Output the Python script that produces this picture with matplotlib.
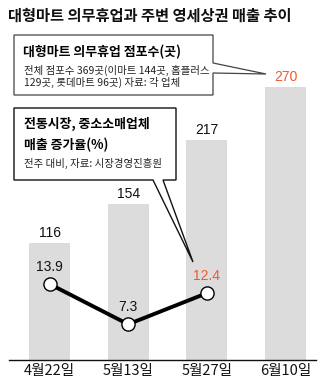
import matplotlib
matplotlib.use('Agg')
import matplotlib.pyplot as plt
from matplotlib.patches import Polygon

plt.rcParams['font.family'] = ['Noto Sans CJK KR', 'DejaVu Sans']

# 데이터
dates = ['4월22일', '5월13일', '5월27일', '6월10일']
stores = [116, 154, 217, 270]          # 의무휴업 점포수(곳)
growth = [13.9, 7.3, 12.4]             # 전주 대비 매출 증가율(%)

W, H = 334, 384
ORANGE = '#f05a28'
BAR = '#dcdcdc'
NUM = ['Liberation Sans', 'DejaVu Sans']


def fx(x):
    return x / W


def fy(y):
    return 1 - y / H


fig = plt.figure(figsize=(W / 100, H / 100), dpi=100)
fig.patch.set_facecolor('white')

# 막대 축 (바닥선 y=360px, 상단 y=60px)
ax = fig.add_axes([fx(9), fy(360), (316 - 9) / W, 300 / H])
xs = list(range(len(dates)))
ax.bar(xs, stores, width=0.52, color=BAR, zorder=1)
ax.set_xlim(-0.515, 3.388)
ax.set_ylim(0, 300 / 1.012)
for s in ['top', 'left', 'right']:
    ax.spines[s].set_visible(False)
ax.spines['bottom'].set_linewidth(1.0)
ax.spines['bottom'].set_color('#111111')
ax.set_yticks([])
ax.set_xticks(xs)
ax.set_xticklabels(dates, fontsize=10.5, color='#111111')
ax.tick_params(axis='x', length=0, pad=3)

for i, v in enumerate(stores):
    ax.annotate(str(v), (i, v), xytext=(0, 10), textcoords='offset pixels',
                ha='center', va='center', fontsize=10, family=NUM,
                color=ORANGE if i == len(stores) - 1 else '#111111')

# 증가율 꺾은선
ax2 = ax.twinx()
ax2.set_ylim(8.8 / 6.1, 308.8 / 6.1)
ax2.set_axis_off()
ax2.plot(xs[:3], growth, color='black', lw=2.8, marker='o', ms=9.5,
         mfc='white', mec='black', mew=1.0, zorder=3)
for i, v in enumerate(growth):
    ax2.annotate(f'{v:.1f}', (i, v), xytext=(0, 17.5), textcoords='offset pixels',
                 ha='center', va='center', fontsize=10, family=NUM,
                 color=ORANGE if i == 2 else '#111111')

# 제목
fig.text(fx(8), fy(16), '대형마트 의무휴업과 주변 영세상권 매출 추이',
         fontsize=11, fontweight='bold', ha='left', va='center', color='#111111')

# 설명 상자 1 (270을 가리킴)
box1 = [(14, 35), (213, 35), (213, 63), (266, 74), (213, 73), (213, 95), (14, 95)]
fig.add_artist(Polygon([(fx(x), fy(y)) for x, y in box1], closed=True,
                       facecolor='white', edgecolor='#444444', lw=0.9,
                       transform=fig.transFigure, zorder=5))
fig.text(fx(23), fy(52), '대형마트 의무휴업 점포수(곳)', fontsize=9.3,
         fontweight='bold', ha='left', va='center', zorder=6)
fig.text(fx(24), fy(70), '전체 점포수 369곳(이마트 144곳, 홈플러스', fontsize=7.5,
         ha='left', va='center', color='#222222', zorder=6)
fig.text(fx(24), fy(82), '129곳, 롯데마트 96곳) 자료: 각 업체', fontsize=7.5,
         ha='left', va='center', color='#222222', zorder=6)

# 설명 상자 2 (12.4를 가리킴)
box2 = [(14, 108), (176, 108), (176, 180), (163, 180), (193, 262), (153, 180), (14, 180)]
fig.add_artist(Polygon([(fx(x), fy(y)) for x, y in box2], closed=True,
                       facecolor='white', edgecolor='#111111', lw=1.0,
                       transform=fig.transFigure, zorder=5))
fig.text(fx(24), fy(124), '전통시장, 중소소매업체', fontsize=9.3,
         fontweight='bold', ha='left', va='center', zorder=6)
fig.text(fx(24), fy(145), '매출 증가율(%)', fontsize=9.3,
         fontweight='bold', ha='left', va='center', zorder=6)
fig.text(fx(24), fy(163), '전주 대비, 자료: 시장경영진흥원', fontsize=7.5,
         ha='left', va='center', color='#222222', zorder=6)

fig.savefig('out.png', dpi=100, facecolor='white')
